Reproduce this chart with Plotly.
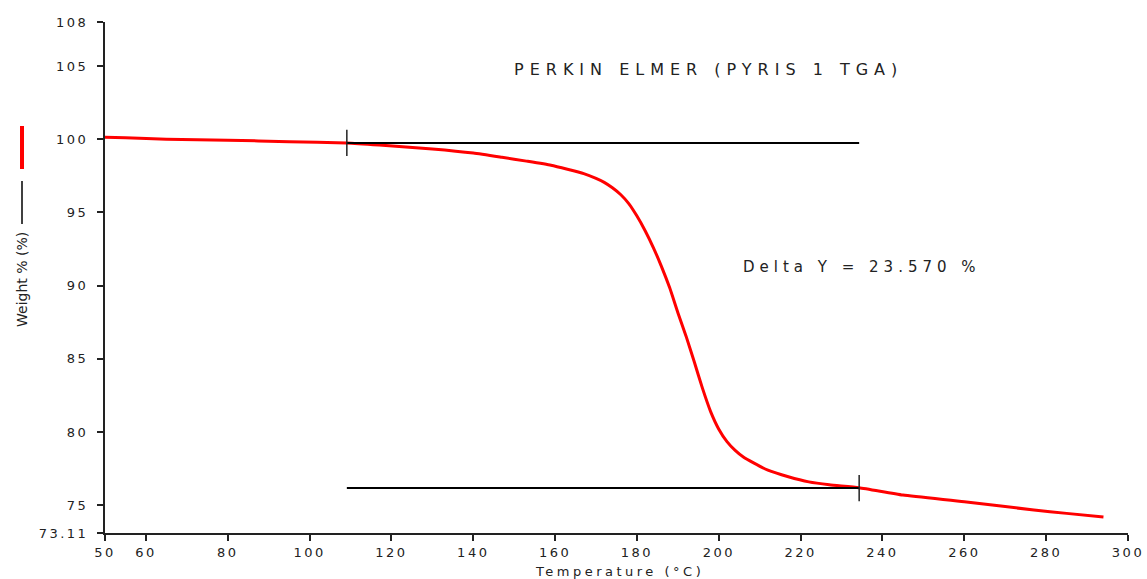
import plotly.graph_objects as go

# Data
temperature = [50, 55, 65, 80, 95, 109, 117, 130, 140, 147, 153, 159, 163, 167, 170, 172, 174, 176, 178, 180,
               182, 184, 186, 188, 190, 192, 194, 196, 198, 200, 202, 204, 206, 208.5, 212, 217, 222, 227,
               234.3, 245, 260, 277, 285, 294]
weight = [100.13, 100.1, 100.0, 99.93, 99.83, 99.74, 99.6, 99.33, 99.05, 98.76, 98.5, 98.22, 97.95, 97.65, 97.32,
          97.05, 96.68, 96.22, 95.6, 94.75, 93.75, 92.6, 91.3, 89.85, 88.15, 86.55, 84.8, 83.0, 81.4, 80.2, 79.35,
          78.75, 78.3, 77.9, 77.4, 76.95, 76.6, 76.4, 76.2, 75.7, 75.25, 74.68, 74.45, 74.2]

onset_x = [109.1, 234.3]
upper_level = 99.745
lower_level = 76.175
tick_half = 0.9

x_ticks = [50, 60, 80, 100, 120, 140, 160, 180, 200, 220, 240, 260, 280, 300]
y_ticks = [73.11, 75, 80, 85, 90, 95, 100, 105, 108]
y_ticktext = ["73.11", "75", "80", "85", "90", "95", "100", "105", "108"]

title_text = "PERKIN ELMER (PYRIS 1 TGA)"
delta_text = "Delta Y = 23.570 %"
x_title = "Temperature (°C)"
y_title = "Weight % (%)"

FONT = "DejaVu Sans"
W, H = 1147, 579
L, R, T, B = 105, 19, 22, 46
pw, ph = W - L - R, H - T - B


def px(xp):
    return (xp - L) / pw


def py(yp):
    return (H - B - yp) / ph


def spaced(s, sp):
    return '<span style="letter-spacing:{}px">{}</span>'.format(sp, s)


fig = go.Figure()

fig.add_trace(go.Scatter(x=temperature, y=weight, mode="lines",
                         line=dict(color="#ff0000", width=3, shape="spline", smoothing=0.5),
                         hoverinfo="skip", showlegend=False))

# horizontal step lines
fig.add_trace(go.Scatter(x=[onset_x[0], onset_x[1]], y=[upper_level, upper_level], mode="lines",
                         line=dict(color="black", width=2), showlegend=False))
fig.add_trace(go.Scatter(x=[onset_x[0], onset_x[1]], y=[lower_level, lower_level], mode="lines",
                         line=dict(color="black", width=2), showlegend=False))
# vertical markers
fig.add_trace(go.Scatter(x=[onset_x[0], onset_x[0]], y=[upper_level - tick_half, upper_level + tick_half],
                         mode="lines", line=dict(color="#222", width=1.5), showlegend=False))
fig.add_trace(go.Scatter(x=[onset_x[1], onset_x[1]], y=[lower_level - tick_half, lower_level + tick_half],
                         mode="lines", line=dict(color="#222", width=1.5), showlegend=False))

axis_common = dict(showgrid=False, zeroline=False, showline=True, linecolor="#222", linewidth=2,
                   ticks="outside", ticklen=6, tickwidth=1.5, tickcolor="#222", automargin=False,
                   tickfont=dict(family=FONT, size=13, color="#222"))

fig.update_xaxes(range=[50, 300], tickvals=x_ticks,
                 ticktext=[spaced(str(v), 2.5) for v in x_ticks], **axis_common)
fig.update_yaxes(range=[73.11, 108], tickvals=y_ticks,
                 ticktext=[spaced(t, 2.5) for t in y_ticktext], ticklabelstandoff=6, **axis_common)

fig.add_annotation(x=px(512), y=py(69), xref="paper", yref="paper", text=spaced(title_text, 6),
                   xanchor="left", yanchor="middle", showarrow=False,
                   font=dict(family=FONT, size=16, color="#222"))
fig.add_annotation(x=px(741), y=py(267), xref="paper", yref="paper", text=spaced(delta_text, 5),
                   xanchor="left", yanchor="middle", showarrow=False,
                   font=dict(family=FONT, size=15, color="#222"))
fig.add_annotation(x=px(533), y=py(571), xref="paper", yref="paper", text=spaced(x_title, 3.5),
                   xanchor="left", yanchor="middle", showarrow=False,
                   font=dict(family=FONT, size=13, color="#222"))
fig.add_annotation(x=px(22), y=py(280), xref="paper", yref="paper", text=y_title, showarrow=False,
                   xanchor="center", yanchor="middle", textangle=-90,
                   font=dict(family=FONT, size=14, color="#222"))

# legend glyphs next to y title
fig.add_shape(type="line", xref="paper", yref="paper", x0=px(22), x1=px(22), y0=py(126), y1=py(169),
              line=dict(color="#ff0000", width=4))
fig.add_shape(type="line", xref="paper", yref="paper", x0=px(22), x1=px(22), y0=py(181), y1=py(224),
              line=dict(color="black", width=1.5))

fig.update_layout(width=W, height=H, margin=dict(l=L, r=R, t=T, b=B, autoexpand=False),
                  paper_bgcolor="white", plot_bgcolor="white", showlegend=False)

fig.write_html("out.html", config={"displayModeBar": False},
               post_script="document.body.style.margin='0';document.body.style.overflow='hidden';")
